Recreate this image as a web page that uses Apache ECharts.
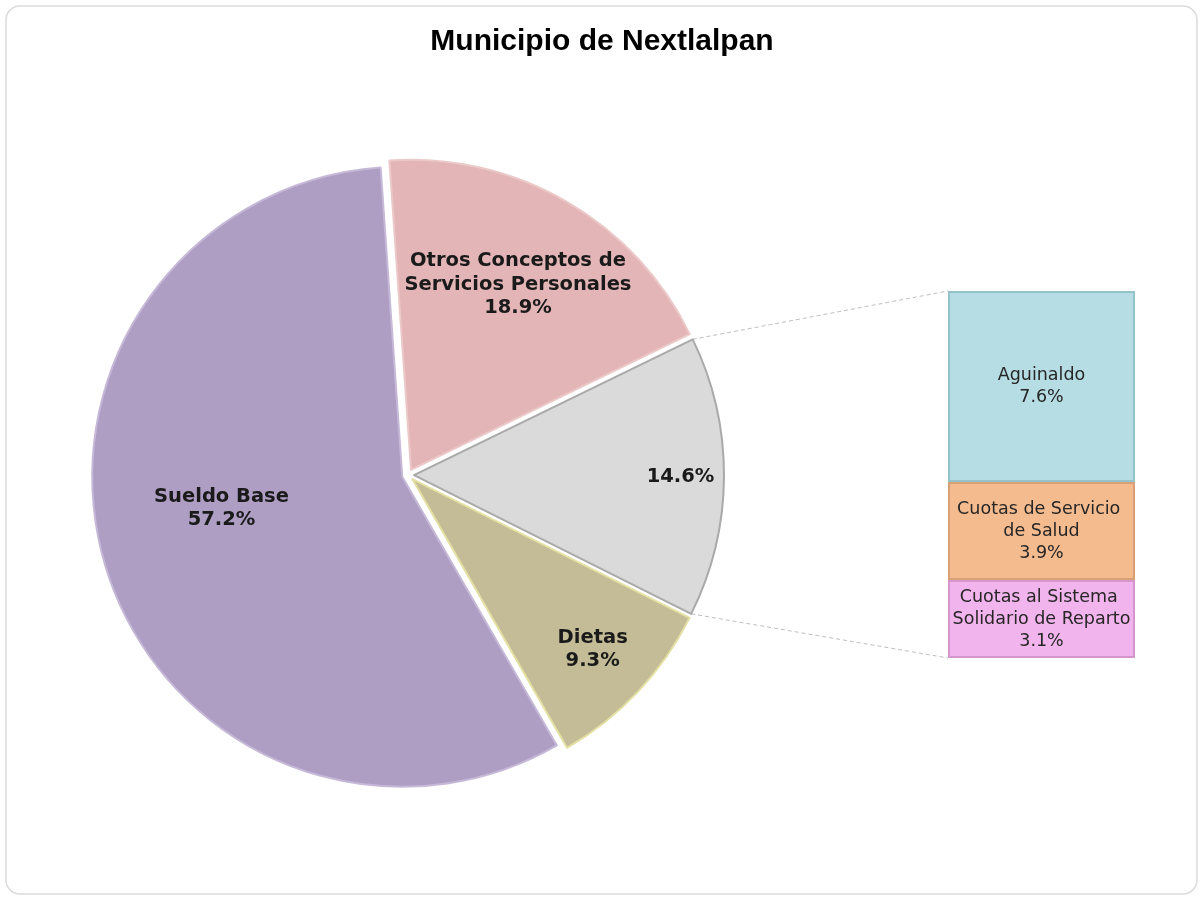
<!DOCTYPE html>
<html>
<head>
<meta charset="utf-8">
<script src="https://cdn.jsdelivr.net/npm/echarts@6/dist/echarts.min.js"></script>
<style>
html,body{margin:0;padding:0;background:#fff;}
#main{width:1204px;height:901px;}
</style>
</head>
<body>
<div id="main"></div>
<script>
// main pie, clockwise from 12 o'clock
var pieNames = ['Otros Conceptos de Servicios Personales', 'Otras prestaciones', 'Dietas', 'Sueldo Base'];
var pieLabels = ['Otros Conceptos de\nServicios Personales', '', 'Dietas', 'Sueldo Base'];
var pieValues = [18.9, 14.6, 9.3, 57.2];
// breakdown of the grey slice
var barNames = ['Aguinaldo', 'Cuotas de Servicio de Salud', 'Cuotas al Sistema Solidario de Reparto'];
var barValues = [7.6, 3.9, 3.1];

var pieColors = ['#e3b5b6', '#dadada', '#c3bc96', '#ae9ec4'];
var pieBorders = ['#ecc9c9', '#a9a9a9', '#e4dfa2', '#c6b9d7'];
var labelR = [0.68, 0.85, 0.79, 0.60];   // label distance, as part of radius
var labelLift = [0, 0, 0, 2];            // blank lines under a label, nudges it up
var barColors = ['#b6dde3', '#f4bb8f', '#f2b4ec'];
var barBorders = ['#93c2ca', '#d9a078', '#d596ce'];

var cx = 408, cy = 475, R = 310, explode = 6, startAngle = 94;
var gLeft = 948, gTop = 291, gW = 187, gH = 367;
var detailIdx = 1;

var total = 0;
pieValues.forEach(function(v){ total += v; });

// clock angle (deg from 12 o'clock, clockwise) -> unit vector
function dir(a){
    var r = a * Math.PI / 180;
    return [Math.sin(r), -Math.cos(r)];
}

var acc = 90 - startAngle;
var pieData = [];
var slices = [];
for (let i = 0; i < pieValues.length; i++) {
    let span = pieValues[i] / total * 360;
    slices.push({from: acc, to: acc + span, mid: acc + span / 2});
    pieData.push({
        name: pieNames[i],
        value: pieValues[i],
        selected: true,
        itemStyle: {color: pieColors[i], borderColor: pieBorders[i], borderWidth: 2}
    });
    acc += span;
}

var pieSeries = [{
    type: 'pie',
    center: [cx, cy],
    radius: [0, R],
    startAngle: startAngle,
    clockwise: true,
    selectedMode: 'multiple',
    selectedOffset: explode,
    emphasis: {scale: false, disabled: true},
    label: {show: false},
    labelLine: {show: false},
    data: pieData
}];

// invisible thin rings, one per slice label, so each label sits at its own radius
for (let i = 0; i < pieValues.length; i++) {
    pieSeries.push({
        type: 'pie',
        center: [cx, cy],
        radius: [labelR[i] * R - 1, labelR[i] * R + 1],
        startAngle: startAngle,
        clockwise: true,
        selectedMode: 'multiple',
        selectedOffset: explode,
        silent: true,
        avoidLabelOverlap: false,
        z: 5,
        itemStyle: {color: 'rgba(0,0,0,0)', borderWidth: 0},
        emphasis: {disabled: true},
        labelLine: {show: false},
        label: {
            show: true,
            position: 'inside',
            fontFamily: 'DejaVu Sans',
            fontSize: 19.5,
            fontWeight: 'bold',
            lineHeight: 23.5,
            color: '#1a1a1a',
            formatter: function(p){
                var t = pieLabels[p.dataIndex];
                var txt = (t ? t + '\n' : '') + p.value + '%';
                for (let k = 0; k < labelLift[p.dataIndex]; k++) txt += '\n ';
                return txt;
            }
        },
        data: pieValues.map(function(v, j){
            return {name: pieNames[j], value: v, selected: true, label: {show: j === i}};
        })
    });
}

var barSeries = [];
for (let i = 0; i < barValues.length; i++) {
    barSeries.push({
        type: 'bar',
        name: barNames[i],
        stack: 'detalle',
        barWidth: '100%',
        data: [barValues[i]],
        silent: true,
        itemStyle: {color: barColors[i], borderColor: barBorders[i], borderWidth: 2},
        label: {
            show: true,
            position: 'inside',
            width: gW - 2,
            overflow: 'break',
            fontFamily: 'DejaVu Sans',
            fontSize: 17.5,
            lineHeight: 22,
            color: '#262626',
            formatter: function(p){ return p.seriesName + '\n' + p.value + '%'; }
        }
    });
}

// dashed connectors from the grey slice to the bar
var s = slices[detailIdx];
var off = dir(s.mid);
var p1 = dir(s.from), p2 = dir(s.to);
var c1 = [cx + off[0] * explode + p1[0] * R, cy + off[1] * explode + p1[1] * R];
var c2 = [cx + off[0] * explode + p2[0] * R, cy + off[1] * explode + p2[1] * R];

var option = {
    backgroundColor: '#fff',
    animation: false,
    title: {
        text: 'Municipio de Nextlalpan',
        left: 'center',
        top: 22,
        textStyle: {
            fontFamily: 'Liberation Sans',
            fontSize: 30,
            fontWeight: 'bold',
            color: '#000'
        }
    },
    graphic: [
        {type: 'rect', shape: {x: 6, y: 6, width: 1191, height: 888, r: 14}, style: {fill: 'none', stroke: '#dcdcdc', lineWidth: 1.5}, silent: true},
        {type: 'line', shape: {x1: c1[0], y1: c1[1], x2: gLeft, y2: gTop}, style: {stroke: '#bfbfbf', lineWidth: 1, lineDash: [4, 3]}, silent: true},
        {type: 'line', shape: {x1: c2[0], y1: c2[1], x2: gLeft, y2: gTop + gH}, style: {stroke: '#bfbfbf', lineWidth: 1, lineDash: [4, 3]}, silent: true}
    ],
    grid: {left: gLeft, top: gTop, width: gW, height: gH},
    xAxis: {type: 'category', data: [''], show: false},
    yAxis: {type: 'value', min: 0, max: barValues.reduce(function(a, b){ return a + b; }, 0), inverse: true, show: false},
    series: pieSeries.concat(barSeries)
};

var myChart = echarts.init(document.getElementById('main'));
myChart.setOption(option);
</script>
</body>
</html>
